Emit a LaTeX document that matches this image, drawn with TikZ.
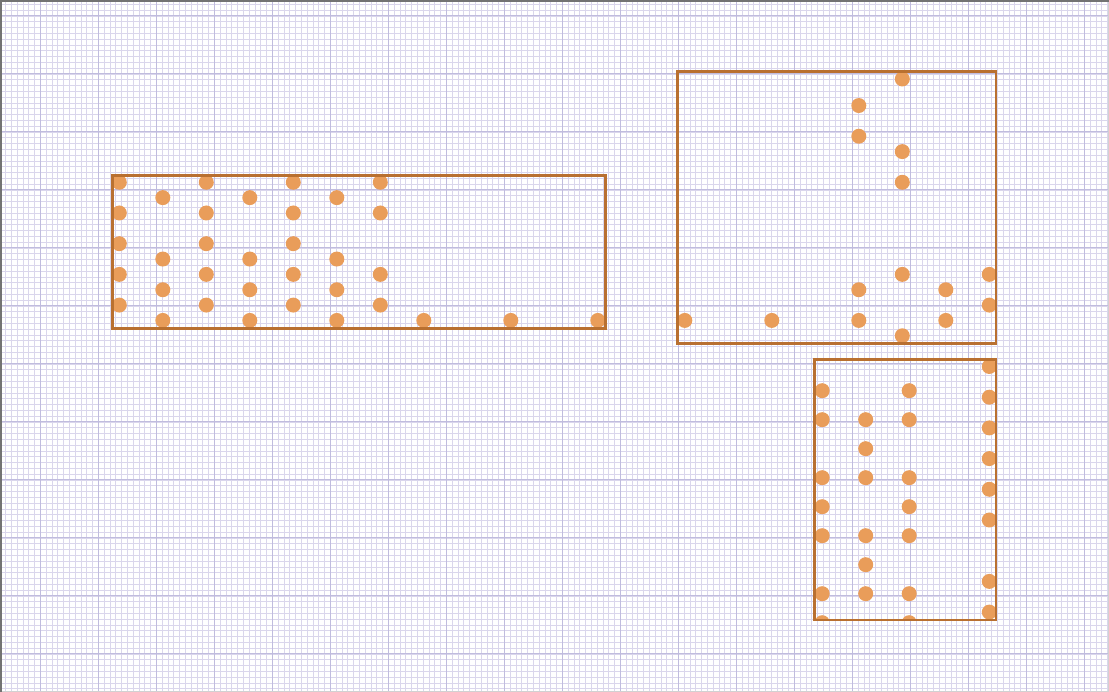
\documentclass[tikz,border=0pt]{standalone}
\usepackage{tikz}

\definecolor{rand}{RGB}{185,112,48}
\definecolor{stipkleur}{RGB}{233,157,90}
\definecolor{fijnlijn}{RGB}{218,214,236}
\definecolor{groflijn}{RGB}{192,188,222}

\begin{document}
\begin{tikzpicture}[x=1pt, y=1pt,
    kader/.style={draw=rand, line width=2.7pt},
    stip/.style={fill=stipkleur},
    fijn/.style={draw=fijnlijn, line width=0.8pt},
    grof/.style={draw=groflijn, line width=1pt}]

    \useasboundingbox (0,0) rectangle (1109,692);
    \fill[white] (0,0) rectangle (1109,692);

    % ruitjespapier
    \begin{scope}[shift={(40.3,38)}]
        \draw[fijn, step=5.8pt] (-40.3,-38) grid (1068.7,654);
        \draw[grof, step=58pt] (-40.3,-38) grid (1068.7,654);
    \end{scope}
    \draw[black!18, line width=1pt] (1108.5,0) -- (1108.5,692);
    \draw[black!18, line width=1pt] (0,0.5) -- (1109,0.5);
    \draw[black!55, line width=2pt] (1,0) -- (1,692);
    \draw[black!55, line width=2pt] (0,691) -- (1109,691);

    % hoekpunten van de drie kaders
    \coordinate (links-a) at (112.3,363.7);
    \coordinate (links-b) at (605.3,516.7);
    \coordinate (boven-a) at (677.3,348.7);
    \coordinate (boven-b) at (996,620.7);
    \coordinate (onder-a) at (814.3,72);
    \coordinate (onder-b) at (996,332.5);

    % linker kader
    \begin{scope}
        \clip (links-a) rectangle (links-b);
        \foreach \i/\j in {0/0,0/2,0/4,0/6,0/8, 1/1,1/5,1/7,1/9,
                           2/0,2/2,2/4,2/6,2/8, 3/1,3/5,3/7,3/9,
                           4/0,4/2,4/4,4/6,4/8, 5/1,5/5,5/7,5/9,
                           6/0,6/2,6/6,6/8, 7/9, 9/9, 11/9}
            \fill[stip] ({119.3+43.5*\i}, {509.7-15.35*\j}) circle (7.5);
    \end{scope}
    \draw[kader] (links-a) rectangle (links-b);

    % kader rechtsboven
    \begin{scope}
        \clip (boven-a) rectangle (boven-b);
        \foreach \i/\j in {13/9, 15/9, 17/-5,17/-3,17/7,17/9,
                           18/-2,18/0,18/6,18/10, 19/7,19/9, 20/6,20/8}
            \fill[stip] ({119.3+43.5*\i}, {509.7-15.35*\j}) circle (7.5);
        \fill[stip] (902.3,613) circle (7.5);
    \end{scope}
    \draw[kader] (boven-a) rectangle (boven-b);

    % kader rechtsonder
    \begin{scope}
        \clip (onder-a) rectangle (onder-b);
        \foreach \j in {12,14,16,18,20,22,26,28}
            \fill[stip] (989.3, {509.7-15.35*\j}) circle (7.5);
        \foreach \m/\k in {0/0,0/1,0/3,0/4,0/5,0/7,0/8,
                           1/1,1/2,1/3,1/5,1/6,1/7,
                           2/0,2/1,2/3,2/4,2/5,2/7,2/8}
            \fill[stip] ({822.2+43.5*\m}, {301.3-29*\k}) circle (7.5);
    \end{scope}
    \draw[kader] (onder-a) rectangle (onder-b);
\end{tikzpicture}
\end{document}
